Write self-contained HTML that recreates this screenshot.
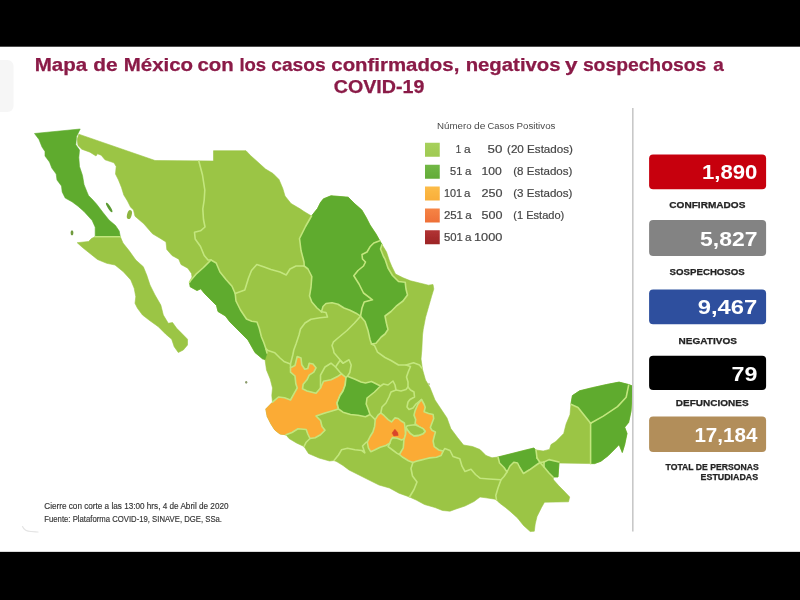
<!DOCTYPE html>
<html lang="es"><head><meta charset="utf-8"><title>Mapa de México COVID-19</title>
<style>
html,body{margin:0;padding:0;background:#fff;}
body{width:800px;height:600px;overflow:hidden;position:relative;}
svg{position:absolute;left:0;top:0;display:block;}
text{font-family:"Liberation Sans",sans-serif;}
</style></head><body>
<svg width="800" height="600" viewBox="0 0 800 600">
<defs><linearGradient id="lg0" x1="0" y1="0" x2="0" y2="1"><stop offset="0" stop-color="#a7d05c"/><stop offset="1" stop-color="#9fca52"/></linearGradient><linearGradient id="lg1" x1="0" y1="0" x2="0" y2="1"><stop offset="0" stop-color="#72b845"/><stop offset="1" stop-color="#62ab38"/></linearGradient><linearGradient id="lg2" x1="0" y1="0" x2="0" y2="1"><stop offset="0" stop-color="#fcbc48"/><stop offset="1" stop-color="#f9ae3a"/></linearGradient><linearGradient id="lg3" x1="0" y1="0" x2="0" y2="1"><stop offset="0" stop-color="#f68445"/><stop offset="1" stop-color="#ee7038"/></linearGradient><linearGradient id="lg4" x1="0" y1="0" x2="0" y2="1"><stop offset="0" stop-color="#b23333"/><stop offset="1" stop-color="#9c2426"/></linearGradient><filter id="soft" x="-2%" y="-2%" width="104%" height="104%"><feGaussianBlur stdDeviation="0.45"/></filter><filter id="softt" x="-2%" y="-10%" width="104%" height="120%"><feGaussianBlur stdDeviation="0.3"/></filter></defs>
<rect x="0" y="0" width="800" height="600" fill="#ffffff"/>
<rect x="0" y="0" width="800" height="46.7" fill="#000"/>
<rect x="0" y="551.85" width="800" height="48.4" fill="#000"/>
<rect x="-6" y="60" width="19.5" height="52" rx="6" fill="#f6f6f6"/>
<path d="M22.5 526.5 C24 530 27 531.5 31 531.5 S36 532 38 532" fill="none" stroke="#e4e4e4" stroke-width="1.2" stroke-linecap="round"/>
<g id="map" filter="url(#soft)">
<polygon points="120.3,236.7 123.0,243.0 129.0,250.5 135.8,260.0 143.3,266.7 146.7,275.0 150.0,285.0 155.0,295.0 160.8,305.0 163.3,315.0 168.3,323.3 172.5,322.5 176.7,328.3 181.7,333.3 187.5,339.2 187.5,345.0 183.3,350.0 178.3,352.5 174.2,346.7 171.7,339.2 165.8,334.2 158.3,326.7 150.0,320.8 142.5,315.0 137.5,308.3 135.0,303.3 135.8,296.7 134.2,288.3 130.8,280.0 123.3,271.7 115.0,265.0 106.7,263.3 97.5,259.5 90.0,253.5 82.5,247.5 77.2,242.7 88.5,241.5 91.5,238.5 95.2,236.7" fill="#9bc544" stroke="#9bc544" stroke-width="0.6" stroke-linejoin="round"/>
<polygon points="78.8,134.2 155.0,160.5 213.5,161.0 213.5,150.7 246.0,150.7 250.5,155.5 258.0,162.2 265.5,169.0 273.0,173.5 279.0,179.5 282.8,188.5 285.0,196.0 291.0,203.5 300.0,208.8 304.0,211.5 311.5,216.0 317.5,208.5 320.5,202.5 323.5,198.8 331.0,195.8 340.0,196.5 348.2,197.2 355.0,204.0 361.8,210.0 366.2,217.5 370.0,225.0 376.0,234.0 379.8,240.8 382.0,244.5 386.5,252.0 389.5,261.0 391.8,266.5 395.5,274.0 403.0,277.8 410.5,280.8 419.5,283.0 428.5,285.2 433.0,284.5 433.8,289.0 431.5,296.5 428.5,307.0 425.5,317.5 423.2,329.5 422.5,335.0 421.8,350.0 421.0,359.0 422.5,369.5 425.5,380.0 430.0,387.5 433.0,395.0 435.0,400.0 441.0,409.0 447.0,418.0 450.8,428.5 457.5,437.5 463.5,445.0 472.5,446.5 480.0,449.5 486.0,455.5 492.0,457.8 498.0,457.0 510.0,454.0 525.0,450.2 534.0,448.0 536.0,450.0 543.2,451.0 549.5,449.4 551.0,444.6 555.8,441.5 563.7,433.5 566.1,424.0 570.0,414.6 570.9,404.3 572.4,395.6 579.6,390.8 592.2,387.7 606.5,384.5 619.1,382.1 628.6,384.5 632.6,386.1 631.8,398.7 631.0,411.4 628.6,422.5 624.7,427.2 627.0,433.5 624.7,444.6 622.3,452.5 619.1,444.6 614.4,449.4 608.1,455.7 601.0,461.2 594.6,463.6 590.6,463.6 559.0,463.0 558.0,477.0 553.0,477.0 553.5,479.8 558.8,485.8 564.0,491.0 569.7,497.0 568.5,501.8 544.5,502.2 541.5,507.5 537.0,516.5 535.2,524.0 534.3,531.2 530.2,531.5 523.5,525.5 517.5,518.0 510.0,511.2 505.5,507.5 499.5,503.0 496.5,500.0 495.0,499.2 486.0,497.8 480.0,497.0 474.0,501.5 465.0,506.0 456.0,509.0 450.0,511.2 442.5,510.5 435.0,507.5 424.5,504.5 416.2,500.0 409.5,497.0 399.0,493.2 389.5,488.0 379.0,485.0 368.5,479.8 358.0,474.5 349.0,470.0 343.0,465.5 337.0,461.8 334.0,460.5 329.5,461.0 319.0,458.0 308.5,453.5 304.0,446.5 296.5,443.0 289.0,438.5 286.0,434.8 280.0,434.0 274.8,430.0 271.0,424.0 267.2,416.5 265.8,409.0 272.5,402.2 271.8,395.5 272.5,388.0 270.2,379.0 266.5,370.0 265.0,359.5 262.5,358.8 255.0,352.5 248.0,340.0 242.0,334.0 236.0,328.0 230.0,322.0 225.5,316.0 218.0,311.5 216.5,305.5 212.0,301.0 204.5,293.5 200.8,288.8 197.0,290.5 190.2,286.8 189.5,282.2 192.0,277.0 191.5,273.5 187.8,268.2 181.0,264.5 178.8,259.2 172.0,255.5 166.8,249.5 166.0,242.0 160.0,238.2 152.5,233.8 143.8,223.8 135.0,216.2 133.5,210.0 130.5,207.0 127.5,201.0 123.8,195.0 121.5,187.5 118.5,180.0 115.5,174.0 116.2,166.5 114.0,162.8 105.0,159.8 101.2,155.2 97.5,153.8 96.0,156.0 90.0,152.2 81.8,149.2 78.0,145.5 77.2,139.5" fill="#9bc544" stroke="#9bc544" stroke-width="0.6" stroke-linejoin="round"/>
<polygon points="80.2,129.0 76.5,136.5 75.8,144.8 79.5,150.0 78.8,157.5 79.5,166.5 82.5,175.5 84.0,184.5 87.0,192.0 88.5,195.5 92.0,199.0 96.5,204.0 103.0,212.5 109.0,220.0 115.5,225.5 119.2,231.0 120.3,236.7 95.2,236.7 95.2,227.2 92.2,220.5 84.0,211.5 78.0,206.2 72.0,201.8 65.2,198.0 62.2,192.0 61.5,186.0 57.0,180.0 56.2,174.0 51.8,168.0 49.5,162.0 45.0,156.0 45.0,151.5 42.0,147.0 39.0,139.5 34.5,133.5" fill="#5eab2d" stroke="#5eab2d" stroke-width="0.6" stroke-linejoin="round"/>
<polygon points="189.5,282.2 190.8,280.2 196.0,274.2 203.5,267.5 211.0,260.0 216.2,263.0 220.0,272.0 226.0,279.5 232.0,286.2 235.2,293.5 236.0,301.0 240.5,310.0 246.5,319.0 251.8,321.2 257.0,322.0 259.2,328.0 261.5,337.0 263.8,342.5 266.0,349.0 267.0,353.0 265.0,359.5 262.5,358.8 255.0,352.5 248.0,340.0 242.0,334.0 236.0,328.0 230.0,322.0 225.5,316.0 218.0,311.5 216.5,305.5 212.0,301.0 204.5,293.5 200.8,288.8 197.0,290.5 190.2,286.8" fill="#5eab2d" stroke="#5eab2d" stroke-width="0.6" stroke-linejoin="round"/>
<polygon points="311.5,216.0 305.5,226.5 299.5,238.5 301.0,250.5 304.0,262.0 304.2,266.0 308.0,269.0 311.8,276.5 311.0,287.0 309.5,296.0 311.8,302.0 317.0,308.0 321.5,311.8 323.0,306.5 326.0,303.5 332.0,302.8 338.0,304.2 344.0,308.0 350.0,310.2 356.0,313.2 360.5,316.2 365.0,321.5 368.0,330.5 370.0,339.5 371.5,344.0 376.0,343.2 381.2,337.0 385.0,334.0 388.0,329.5 386.5,323.5 385.0,316.0 391.0,311.5 396.2,306.2 403.0,301.0 407.5,295.0 406.0,289.0 405.2,282.2 398.5,281.5 392.5,275.5 388.0,268.0 385.0,259.0 383.5,256.5 380.5,249.0 382.0,244.5 379.8,240.8 376.0,234.0 370.0,225.0 366.2,217.5 361.8,210.0 355.0,204.0 348.2,197.2 340.0,196.5 331.0,195.8 323.5,198.8 320.5,202.5 317.5,208.5" fill="#5eab2d" stroke="#5eab2d" stroke-width="0.6" stroke-linejoin="round"/>
<polygon points="590.6,463.6 590.6,423.3 578.0,407.4 570.9,404.3 572.4,395.6 579.6,390.8 592.2,387.7 606.5,384.5 619.1,382.1 628.6,384.5 632.6,386.1 631.8,398.7 631.0,411.4 628.6,422.5 624.7,427.2 627.0,433.5 624.7,444.6 622.3,452.5 619.1,444.6 614.4,449.4 608.1,455.7 601.0,461.2 594.6,463.6 590.6,463.6" fill="#5eab2d" stroke="#5eab2d" stroke-width="0.6" stroke-linejoin="round"/>
<polygon points="498.0,457.0 510.0,454.0 525.0,450.2 534.0,448.0 536.0,452.0 537.0,458.0 540.0,462.5 537.0,464.5 529.5,469.8 523.5,473.5 519.8,467.5 517.5,463.0 513.8,462.2 510.0,466.0 507.0,472.0 504.0,467.5 499.5,463.0" fill="#5eab2d" stroke="#5eab2d" stroke-width="0.6" stroke-linejoin="round"/>
<polygon points="544.0,462.0 549.0,459.6 559.0,462.0 558.0,477.0 553.0,477.0 549.0,473.0 544.0,467.0" fill="#5eab2d" stroke="#5eab2d" stroke-width="0.6" stroke-linejoin="round"/>
<polygon points="297.2,356.5 301.0,358.0 301.8,364.8 304.8,369.2 307.8,368.5 309.2,363.2 313.0,364.0 316.0,367.8 313.8,372.2 309.2,375.2 307.0,379.8 303.2,384.2 302.5,388.8 307.0,391.0 316.0,393.2 320.5,388.0 323.5,381.2 331.0,379.8 337.0,376.8 341.5,373.8 346.0,377.5 345.2,385.0 343.0,391.0 340.0,395.5 337.0,403.0 338.5,409.0 331.0,411.2 325.0,413.0 316.0,416.0 320.5,420.5 322.0,426.5 325.0,430.2 320.5,434.8 315.2,437.8 310.0,438.5 307.8,434.0 306.2,429.5 298.0,428.8 292.0,432.5 286.0,434.8 280.0,434.0 274.8,430.0 271.0,424.0 267.2,416.5 265.8,409.0 272.5,402.2 278.5,397.0 284.5,397.8 290.5,400.0 295.0,391.8 297.2,388.0 295.8,383.5 295.0,376.0 290.5,372.2 290.5,367.8 295.0,365.5" fill="#fbab35" stroke="#fbab35" stroke-width="0.6" stroke-linejoin="round"/>
<polyline points="272.5,402.2 278.5,397.0 284.5,397.8 290.5,400.0 295.0,391.8 297.2,388.0 295.8,383.5 295.0,376.0 290.5,372.2 290.5,367.8 295.0,365.5 297.2,356.5 301.0,358.0 301.8,364.8 304.8,369.2 307.8,368.5 309.2,363.2 313.0,364.0 316.0,367.8 313.8,372.2 309.2,375.2 307.0,379.8 303.2,384.2 302.5,388.8 307.0,391.0 316.0,393.2 320.5,388.0 323.5,381.2 331.0,379.8 337.0,376.8 341.5,373.8 346.0,377.5 345.2,385.0 343.0,391.0 340.0,395.5 337.0,403.0 338.5,409.0 331.0,411.2 325.0,413.0 316.0,416.0 320.5,420.5 322.0,426.5 325.0,430.2 320.5,434.8 315.2,437.8 310.0,438.5 307.8,434.0 306.2,429.5 298.0,428.8 292.0,432.5 286.0,434.8" fill="none" stroke="#c3e67e" stroke-width="1.6" stroke-linejoin="round" stroke-linecap="round"/>
<polygon points="346.0,377.5 347.5,376.2 355.0,379.2 361.0,382.0 365.5,383.0 371.5,381.5 380.5,386.0 374.5,392.0 367.0,398.0 366.2,404.0 368.5,410.0 370.0,414.5 365.5,416.8 358.0,415.2 350.5,414.5 343.0,412.2 338.5,409.0 337.0,403.0 340.0,395.5 343.0,391.0 345.2,385.0" fill="#5eab2d" stroke="#c3e67e" stroke-width="1.6" stroke-linejoin="round"/>
<polygon points="380.8,412.9 384.2,415.7 388.1,419.6 391.5,421.9 394.9,417.9 398.2,418.5 401.6,421.3 404.4,423.0 405.0,427.5 405.6,434.2 404.4,438.8 401.6,439.9 397.1,438.2 392.6,437.6 390.9,439.9 389.8,443.2 385.9,445.5 380.2,447.2 374.6,450.0 370.7,451.7 368.4,447.8 367.3,442.1 370.1,436.5 372.9,432.0 374.6,426.4 375.2,419.6 378.0,415.1" fill="#fbab35" stroke="#c3e67e" stroke-width="1.6" stroke-linejoin="round"/>
<polygon points="421.5,399.5 424.0,404.0 425.2,407.2 424.1,411.8 428.6,413.4 433.1,414.6 433.7,418.5 432.0,423.0 430.3,427.5 432.0,430.3 435.4,432.0 434.2,436.5 433.1,441.0 434.2,446.6 438.8,450.0 443.2,451.1 441.0,455.6 436.5,457.3 429.8,457.9 425.2,459.0 420.8,460.1 416.2,461.2 412.9,462.4 408.4,460.7 402.8,457.3 399.4,454.5 403.3,447.8 403.9,439.9 405.6,434.2 406.1,427.5 407.8,430.3 410.6,433.7 414.0,435.9 418.5,435.4 423.0,433.7 425.2,431.4 423.0,428.6 418.5,426.4 415.1,423.6 415.7,419.6 414.0,415.1 415.1,410.6 418.0,404.0" fill="#fbab35" stroke="#c3e67e" stroke-width="1.6" stroke-linejoin="round"/>
<polygon points="406.1,427.5 407.2,425.8 410.6,425.2 415.1,424.7 418.5,426.4 423.0,428.6 425.2,431.4 423.0,433.7 418.5,435.4 414.0,435.9 410.6,433.7 407.8,430.3" fill="#9bc544" stroke="#c3e67e" stroke-width="1.6" stroke-linejoin="round"/>
<polygon points="394.9,429.2 397.7,432.6 398.2,435.4 393.8,435.9 392.1,433.1" fill="#d9452b" stroke="#d9452b" stroke-width="0.5" stroke-linejoin="round"/>
<polyline points="189.5,282.2 190.8,280.2 196.0,274.2 203.5,267.5 211.0,260.0" fill="none" stroke="#c3e67e" stroke-width="1.6" stroke-linejoin="round" stroke-linecap="round"/>
<polyline points="211.0,260.0 216.2,263.0 220.0,272.0 226.0,279.5 232.0,286.2 235.2,293.5 236.0,301.0 240.5,310.0 246.5,319.0 251.8,321.2 257.0,322.0 259.2,328.0 261.5,337.0 263.8,342.5 266.0,349.0 267.0,353.0" fill="none" stroke="#c3e67e" stroke-width="1.6" stroke-linejoin="round" stroke-linecap="round"/>
<polyline points="311.5,216.0 305.5,226.5 299.5,238.5 301.0,250.5 304.0,262.0 304.2,266.0" fill="none" stroke="#c3e67e" stroke-width="1.6" stroke-linejoin="round" stroke-linecap="round"/>
<polyline points="304.2,266.0 308.0,269.0 311.8,276.5 311.0,287.0 309.5,296.0 311.8,302.0 317.0,308.0 321.5,311.8" fill="none" stroke="#c3e67e" stroke-width="1.6" stroke-linejoin="round" stroke-linecap="round"/>
<polyline points="321.5,311.8 323.0,306.5 326.0,303.5 332.0,302.8 338.0,304.2 344.0,308.0 350.0,310.2 356.0,313.2 360.5,316.2" fill="none" stroke="#c3e67e" stroke-width="1.6" stroke-linejoin="round" stroke-linecap="round"/>
<polyline points="360.5,316.2 362.0,308.0 364.2,302.0 372.5,299.8 363.5,293.0 359.0,284.0 353.8,275.8 358.0,270.5 363.5,266.0 365.5,262.0 362.5,259.0 362.0,254.5 367.0,252.0 370.0,246.8 373.8,243.0 379.8,240.8" fill="none" stroke="#c3e67e" stroke-width="1.6" stroke-linejoin="round" stroke-linecap="round"/>
<polyline points="382.0,244.5 380.5,249.0 383.5,256.5 385.0,259.0 388.0,268.0 392.5,275.5 398.5,281.5 405.2,282.2 406.0,289.0 407.5,295.0 403.0,301.0 396.2,306.2 391.0,311.5 385.0,316.0 386.5,323.5 388.0,329.5 385.0,334.0 381.2,337.0 376.0,343.2 371.5,344.0 370.0,339.5 368.0,330.5 365.0,321.5 360.5,316.2" fill="none" stroke="#c3e67e" stroke-width="1.6" stroke-linejoin="round" stroke-linecap="round"/>
<polyline points="95.2,236.7 120.3,236.7" fill="none" stroke="#c3e67e" stroke-width="1.6" stroke-linejoin="round" stroke-linecap="round"/>
<polyline points="198.8,161.0 202.5,175.0 204.8,190.0 204.2,200.0 202.8,209.0 203.5,219.5 205.0,227.0 200.5,230.8 194.5,232.2 195.2,239.0 200.5,246.5 204.2,255.5 208.0,260.0 211.0,260.0" fill="none" stroke="#c3e67e" stroke-width="1.6" stroke-linejoin="round" stroke-linecap="round"/>
<polyline points="235.2,293.5 244.8,290.0 246.2,285.5 248.5,278.0 251.5,270.5 256.8,264.5 263.5,266.8 271.0,269.5 280.0,272.0 286.2,275.0 290.0,269.0 296.0,266.0 304.2,266.0" fill="none" stroke="#c3e67e" stroke-width="1.6" stroke-linejoin="round" stroke-linecap="round"/>
<polyline points="321.5,311.8 326.0,312.5 327.5,317.0 320.0,317.8 311.0,319.2 305.0,323.0 300.5,329.0 299.0,335.0 296.0,344.0 293.8,350.0 292.8,355.0 290.5,364.0 290.5,367.8" fill="none" stroke="#c3e67e" stroke-width="1.6" stroke-linejoin="round" stroke-linecap="round"/>
<polyline points="266.0,349.0 268.0,350.5 274.8,352.8 280.0,358.0 284.5,361.8 290.5,364.0" fill="none" stroke="#c3e67e" stroke-width="1.6" stroke-linejoin="round" stroke-linecap="round"/>
<polyline points="360.5,316.2 354.5,323.0 347.0,330.5 338.0,338.0 333.5,341.8 332.0,345.5 333.5,350.0 334.0,352.8 338.5,358.0 343.0,363.2 349.0,359.8 351.2,365.0 349.8,372.5 347.5,376.2" fill="none" stroke="#c3e67e" stroke-width="1.6" stroke-linejoin="round" stroke-linecap="round"/>
<polyline points="320.5,388.0 320.5,375.2 325.0,367.0 331.0,363.2 335.5,367.0 340.0,372.2 341.5,373.8" fill="none" stroke="#c3e67e" stroke-width="1.6" stroke-linejoin="round" stroke-linecap="round"/>
<polyline points="335.5,367.0 340.0,360.5 343.0,363.2" fill="none" stroke="#c3e67e" stroke-width="1.6" stroke-linejoin="round" stroke-linecap="round"/>
<polyline points="371.5,344.0 374.5,345.5 377.5,352.2 385.0,357.5 391.0,360.5 398.5,365.0 406.0,365.0 413.5,362.8 419.5,365.0 421.8,368.0" fill="none" stroke="#c3e67e" stroke-width="1.6" stroke-linejoin="round" stroke-linecap="round"/>
<polyline points="406.0,365.0 410.5,366.5 408.2,372.0 406.5,377.0 408.0,382.0 408.0,387.0" fill="none" stroke="#c3e67e" stroke-width="1.6" stroke-linejoin="round" stroke-linecap="round"/>
<polyline points="408.0,387.0 410.5,390.0 414.0,392.0 414.5,397.0 410.0,399.5 408.0,402.0 407.0,407.0 409.0,409.5 413.0,408.0 416.0,404.0 421.5,399.5" fill="none" stroke="#c3e67e" stroke-width="1.6" stroke-linejoin="round" stroke-linecap="round"/>
<polyline points="396.0,390.0 401.0,391.0 406.0,389.5 408.0,387.0" fill="none" stroke="#c3e67e" stroke-width="1.6" stroke-linejoin="round" stroke-linecap="round"/>
<polyline points="380.5,386.0 383.5,384.0 388.0,385.0 393.0,381.0 395.0,385.0 396.0,390.0 391.0,392.0 389.0,397.0 386.0,403.0 382.0,407.0 380.8,412.9" fill="none" stroke="#c3e67e" stroke-width="1.6" stroke-linejoin="round" stroke-linecap="round"/>
<polyline points="370.0,414.5 375.2,419.6" fill="none" stroke="#c3e67e" stroke-width="1.6" stroke-linejoin="round" stroke-linecap="round"/>
<polyline points="310.0,438.5 306.2,442.2 304.0,446.5" fill="none" stroke="#c3e67e" stroke-width="1.6" stroke-linejoin="round" stroke-linecap="round"/>
<polyline points="334.0,460.5 338.5,455.0 341.5,449.8 347.5,448.2 355.0,449.8 361.8,450.5 364.8,452.8 362.5,446.0 366.2,442.2 367.3,442.1" fill="none" stroke="#c3e67e" stroke-width="1.6" stroke-linejoin="round" stroke-linecap="round"/>
<polyline points="389.8,443.2 388.1,446.6 392.6,450.0 397.1,453.4 399.4,454.5" fill="none" stroke="#c3e67e" stroke-width="1.6" stroke-linejoin="round" stroke-linecap="round"/>
<polyline points="409.5,497.0 414.0,489.5 417.0,482.0 412.5,476.0 411.0,468.5 412.9,462.4" fill="none" stroke="#c3e67e" stroke-width="1.6" stroke-linejoin="round" stroke-linecap="round"/>
<polyline points="443.2,451.1 444.8,448.5 450.0,450.5 453.0,456.5 459.8,458.8 462.0,466.2 465.0,471.5 471.0,469.2 475.5,474.5 480.0,478.2 489.0,479.0 501.0,479.8" fill="none" stroke="#c3e67e" stroke-width="1.6" stroke-linejoin="round" stroke-linecap="round"/>
<polyline points="507.0,472.0 504.0,476.5 501.0,479.8 498.0,488.0 495.8,495.5 496.5,500.0" fill="none" stroke="#c3e67e" stroke-width="1.6" stroke-linejoin="round" stroke-linecap="round"/>
<polyline points="540.0,462.5 544.0,467.0 549.0,473.0 553.0,477.0" fill="none" stroke="#c3e67e" stroke-width="1.6" stroke-linejoin="round" stroke-linecap="round"/>
<polyline points="540.0,462.5 544.0,462.0" fill="none" stroke="#c3e67e" stroke-width="1.6" stroke-linejoin="round" stroke-linecap="round"/>
<polyline points="536.0,450.0 537.0,458.0" fill="none" stroke="#c3e67e" stroke-width="1.6" stroke-linejoin="round" stroke-linecap="round"/>
<polyline points="537.0,458.0 540.0,462.5 537.0,464.5 529.5,469.8 523.5,473.5 519.8,467.5 517.5,463.0 513.8,462.2 510.0,466.0 507.0,472.0 504.0,467.5 499.5,463.0 498.0,457.0" fill="none" stroke="#c3e67e" stroke-width="1.6" stroke-linejoin="round" stroke-linecap="round"/>
<polyline points="544.0,462.0 549.0,459.6 559.0,462.0" fill="none" stroke="#c3e67e" stroke-width="1.6" stroke-linejoin="round" stroke-linecap="round"/>
<polyline points="544.0,462.0 544.0,467.0" fill="none" stroke="#c3e67e" stroke-width="1.6" stroke-linejoin="round" stroke-linecap="round"/>
<polyline points="570.9,404.3 578.0,407.4 590.6,423.3" fill="none" stroke="#c3e67e" stroke-width="1.6" stroke-linejoin="round" stroke-linecap="round"/>
<polyline points="590.6,423.3 590.6,463.6" fill="none" stroke="#c3e67e" stroke-width="1.6" stroke-linejoin="round" stroke-linecap="round"/>
<polyline points="590.6,423.3 603.3,416.1 617.5,406.6 626.2,397.2 628.6,385.3" fill="none" stroke="#c3e67e" stroke-width="1.6" stroke-linejoin="round" stroke-linecap="round"/>
<ellipse cx="129.4" cy="214.6" rx="2.3" ry="4.6" fill="#8db53f" transform="rotate(15 129.4 214.6)"/>
<ellipse cx="109.2" cy="207.5" rx="1.4" ry="5.6" fill="#5a9a30" transform="rotate(-32 109.2 207.5)"/>
<ellipse cx="72" cy="232.8" rx="1.4" ry="2.6" fill="#6f9a3c"/>
<ellipse cx="246.2" cy="382.3" rx="1.1" ry="1.4" fill="#8a9a6a"/>
<ellipse cx="429" cy="384.2" rx="0.9" ry="1.1" fill="#b9cf8f"/>
</g>
<g filter="url(#softt)">
<text x="34.65" y="71.2" font-size="18.2" font-weight="bold" fill="#8a1a47" text-anchor="start" textLength="52.45" lengthAdjust="spacingAndGlyphs" stroke="#8a1a47" stroke-width="0.25">Mapa</text>
<text x="93.15" y="71.2" font-size="18.2" font-weight="bold" fill="#8a1a47" text-anchor="start" textLength="24.35" lengthAdjust="spacingAndGlyphs" stroke="#8a1a47" stroke-width="0.25">de</text>
<text x="123.8" y="71.2" font-size="18.2" font-weight="bold" fill="#8a1a47" text-anchor="start" textLength="69.3" lengthAdjust="spacingAndGlyphs" stroke="#8a1a47" stroke-width="0.25">México</text>
<text x="197.5" y="71.2" font-size="18.2" font-weight="bold" fill="#8a1a47" text-anchor="start" textLength="36.2" lengthAdjust="spacingAndGlyphs" stroke="#8a1a47" stroke-width="0.25">con</text>
<text x="239.4" y="71.2" font-size="18.2" font-weight="bold" fill="#8a1a47" text-anchor="start" textLength="26.8" lengthAdjust="spacingAndGlyphs" stroke="#8a1a47" stroke-width="0.25">los</text>
<text x="271.3" y="71.2" font-size="18.2" font-weight="bold" fill="#8a1a47" text-anchor="start" textLength="54.3" lengthAdjust="spacingAndGlyphs" stroke="#8a1a47" stroke-width="0.25">casos</text>
<text x="331.3" y="71.2" font-size="18.2" font-weight="bold" fill="#8a1a47" text-anchor="start" textLength="128.05" lengthAdjust="spacingAndGlyphs" stroke="#8a1a47" stroke-width="0.25">confirmados,</text>
<text x="465.65" y="71.2" font-size="18.2" font-weight="bold" fill="#8a1a47" text-anchor="start" textLength="94.95" lengthAdjust="spacingAndGlyphs" stroke="#8a1a47" stroke-width="0.25">negativos</text>
<text x="565.0" y="71.2" font-size="18.2" font-weight="bold" fill="#8a1a47" text-anchor="start" textLength="12.5" lengthAdjust="spacingAndGlyphs" stroke="#8a1a47" stroke-width="0.25">y</text>
<text x="582.9" y="71.2" font-size="18.2" font-weight="bold" fill="#8a1a47" text-anchor="start" textLength="123.3" lengthAdjust="spacingAndGlyphs" stroke="#8a1a47" stroke-width="0.25">sospechosos</text>
<text x="713.15" y="71.2" font-size="18.2" font-weight="bold" fill="#8a1a47" text-anchor="start" textLength="10.55" lengthAdjust="spacingAndGlyphs" stroke="#8a1a47" stroke-width="0.25">a</text>
<text x="333.8" y="93.3" font-size="18.2" font-weight="bold" fill="#8a1a47" text-anchor="start" textLength="90.6" lengthAdjust="spacingAndGlyphs" stroke="#8a1a47" stroke-width="0.25">COVID-19</text>
<text x="437.1" y="129.4" font-size="9.7" font-weight="normal" fill="#4a4a4a" text-anchor="start" textLength="34.55" lengthAdjust="spacingAndGlyphs">Número</text>
<text x="474.0" y="129.4" font-size="9.7" font-weight="normal" fill="#4a4a4a" text-anchor="start" textLength="11.4" lengthAdjust="spacingAndGlyphs">de</text>
<text x="487.6" y="129.4" font-size="9.7" font-weight="normal" fill="#4a4a4a" text-anchor="start" textLength="26.55" lengthAdjust="spacingAndGlyphs">Casos</text>
<text x="516.5" y="129.4" font-size="9.7" font-weight="normal" fill="#4a4a4a" text-anchor="start" textLength="38.9" lengthAdjust="spacingAndGlyphs">Positivos</text>
<rect x="425" y="142.75" width="14.75" height="14" fill="url(#lg0)"/>
<text x="455.75" y="153.29999999999998" font-size="11.8" font-weight="normal" fill="#454545" text-anchor="start" textLength="5.35" lengthAdjust="spacingAndGlyphs" stroke="#454545" stroke-width="0.2">1</text>
<text x="463.9" y="153.29999999999998" font-size="11.8" font-weight="normal" fill="#454545" text-anchor="start" textLength="6.6" lengthAdjust="spacingAndGlyphs" stroke="#454545" stroke-width="0.2">a</text>
<text x="487.6" y="153.29999999999998" font-size="11.8" font-weight="normal" fill="#454545" text-anchor="start" textLength="14.8" lengthAdjust="spacingAndGlyphs" stroke="#454545" stroke-width="0.2">50</text>
<text x="507.0" y="153.29999999999998" font-size="11.8" font-weight="normal" fill="#454545" text-anchor="start" textLength="66.0" lengthAdjust="spacingAndGlyphs" stroke="#454545" stroke-width="0.2">(20 Estados)</text>
<rect x="425" y="164.75" width="14.75" height="14" fill="url(#lg1)"/>
<text x="450.1" y="175.2" font-size="11.8" font-weight="normal" fill="#454545" text-anchor="start" textLength="12.3" lengthAdjust="spacingAndGlyphs" stroke="#454545" stroke-width="0.2">51</text>
<text x="465.1" y="175.2" font-size="11.8" font-weight="normal" fill="#454545" text-anchor="start" textLength="6.4" lengthAdjust="spacingAndGlyphs" stroke="#454545" stroke-width="0.2">a</text>
<text x="481.4" y="175.2" font-size="11.8" font-weight="normal" fill="#454545" text-anchor="start" textLength="20.35" lengthAdjust="spacingAndGlyphs" stroke="#454545" stroke-width="0.2">100</text>
<text x="513.25" y="175.2" font-size="11.8" font-weight="normal" fill="#454545" text-anchor="start" textLength="59.15" lengthAdjust="spacingAndGlyphs" stroke="#454545" stroke-width="0.2">(8 Estados)</text>
<rect x="425" y="186.5" width="14.75" height="14" fill="url(#lg2)"/>
<text x="443.9" y="197.1" font-size="11.8" font-weight="normal" fill="#454545" text-anchor="start" textLength="18.1" lengthAdjust="spacingAndGlyphs" stroke="#454545" stroke-width="0.2">101</text>
<text x="464.1" y="197.1" font-size="11.8" font-weight="normal" fill="#454545" text-anchor="start" textLength="6.4" lengthAdjust="spacingAndGlyphs" stroke="#454545" stroke-width="0.2">a</text>
<text x="481.4" y="197.1" font-size="11.8" font-weight="normal" fill="#454545" text-anchor="start" textLength="21.0" lengthAdjust="spacingAndGlyphs" stroke="#454545" stroke-width="0.2">250</text>
<text x="513.25" y="197.1" font-size="11.8" font-weight="normal" fill="#454545" text-anchor="start" textLength="59.15" lengthAdjust="spacingAndGlyphs" stroke="#454545" stroke-width="0.2">(3 Estados)</text>
<rect x="425" y="208.5" width="14.75" height="14" fill="url(#lg3)"/>
<text x="443.9" y="218.95" font-size="11.8" font-weight="normal" fill="#454545" text-anchor="start" textLength="19.1" lengthAdjust="spacingAndGlyphs" stroke="#454545" stroke-width="0.2">251</text>
<text x="465.3" y="218.95" font-size="11.8" font-weight="normal" fill="#454545" text-anchor="start" textLength="6.45" lengthAdjust="spacingAndGlyphs" stroke="#454545" stroke-width="0.2">a</text>
<text x="481.4" y="218.95" font-size="11.8" font-weight="normal" fill="#454545" text-anchor="start" textLength="21.0" lengthAdjust="spacingAndGlyphs" stroke="#454545" stroke-width="0.2">500</text>
<text x="513.25" y="218.95" font-size="11.8" font-weight="normal" fill="#454545" text-anchor="start" textLength="51.05" lengthAdjust="spacingAndGlyphs" stroke="#454545" stroke-width="0.2">(1 Estado)</text>
<rect x="425" y="230.25" width="14.75" height="14" fill="url(#lg4)"/>
<text x="443.9" y="240.79999999999998" font-size="11.8" font-weight="normal" fill="#454545" text-anchor="start" textLength="18.9" lengthAdjust="spacingAndGlyphs" stroke="#454545" stroke-width="0.2">501</text>
<text x="465.0" y="240.79999999999998" font-size="11.8" font-weight="normal" fill="#454545" text-anchor="start" textLength="6.5" lengthAdjust="spacingAndGlyphs" stroke="#454545" stroke-width="0.2">a</text>
<text x="474.0" y="240.79999999999998" font-size="11.8" font-weight="normal" fill="#454545" text-anchor="start" textLength="28.4" lengthAdjust="spacingAndGlyphs" stroke="#454545" stroke-width="0.2">1000</text>
<rect x="632" y="108" width="1.6" height="423.5" fill="#c8c8c8"/>
<rect x="649.1" y="154.6" width="117" height="34.6" rx="4" fill="#c70310"/>
<text x="702" y="179.1" font-size="20.6" font-weight="bold" fill="#fff" text-anchor="start" textLength="55.4" lengthAdjust="spacingAndGlyphs">1,890</text>
<text x="669.35" y="207.85" font-size="9.2" font-weight="bold" fill="#222" text-anchor="start" textLength="76.0" lengthAdjust="spacingAndGlyphs" stroke="#222" stroke-width="0.25">CONFIRMADOS</text>
<rect x="649.1" y="220" width="117" height="36" rx="4" fill="#838383"/>
<text x="700" y="245.9" font-size="20.6" font-weight="bold" fill="#fff" text-anchor="start" textLength="57.4" lengthAdjust="spacingAndGlyphs">5,827</text>
<text x="669.6" y="274.95" font-size="9.2" font-weight="bold" fill="#222" text-anchor="start" textLength="75.2" lengthAdjust="spacingAndGlyphs" stroke="#222" stroke-width="0.25">SOSPECHOSOS</text>
<rect x="649.1" y="289.4" width="117" height="34.9" rx="4" fill="#2e4f9e"/>
<text x="697.75" y="314" font-size="20.6" font-weight="bold" fill="#fff" text-anchor="start" textLength="59.6" lengthAdjust="spacingAndGlyphs">9,467</text>
<text x="678.6" y="344.2" font-size="9.2" font-weight="bold" fill="#222" text-anchor="start" textLength="58.3" lengthAdjust="spacingAndGlyphs" stroke="#222" stroke-width="0.25">NEGATIVOS</text>
<rect x="649.1" y="355.8" width="117" height="34.2" rx="4" fill="#000000"/>
<text x="731.5" y="381" font-size="20.6" font-weight="bold" fill="#fff" text-anchor="start" textLength="25.9" lengthAdjust="spacingAndGlyphs">79</text>
<text x="675.85" y="405.95" font-size="9.2" font-weight="bold" fill="#222" text-anchor="start" textLength="72.8" lengthAdjust="spacingAndGlyphs" stroke="#222" stroke-width="0.25">DEFUNCIONES</text>
<rect x="649.1" y="416.5" width="117" height="35.4" rx="4" fill="#b28e5a"/>
<text x="694.4" y="441.75" font-size="20.6" font-weight="bold" fill="#fff" text-anchor="start" textLength="63.0" lengthAdjust="spacingAndGlyphs">17,184</text>
<text x="665.6" y="470.09999999999997" font-size="9.2" font-weight="bold" fill="#222" text-anchor="start" textLength="93.2" lengthAdjust="spacingAndGlyphs" stroke="#222" stroke-width="0.25">TOTAL DE PERSONAS</text>
<text x="700.6" y="479.7" font-size="9.2" font-weight="bold" fill="#222" text-anchor="start" textLength="57.5" lengthAdjust="spacingAndGlyphs" stroke="#222" stroke-width="0.25">ESTUDIADAS</text>
<text x="44.3" y="509" font-size="8.4" font-weight="normal" fill="#333" text-anchor="start" textLength="184.2" lengthAdjust="spacingAndGlyphs" stroke="#333" stroke-width="0.15">Cierre con corte a las 13:00 hrs, 4 de Abril de 2020</text>
<text x="44.3" y="522.2" font-size="8.4" font-weight="normal" fill="#333" text-anchor="start" textLength="177.7" lengthAdjust="spacingAndGlyphs" stroke="#333" stroke-width="0.15">Fuente: Plataforma COVID-19, SINAVE, DGE, SSa.</text>
</g>
</svg>
</body></html>
